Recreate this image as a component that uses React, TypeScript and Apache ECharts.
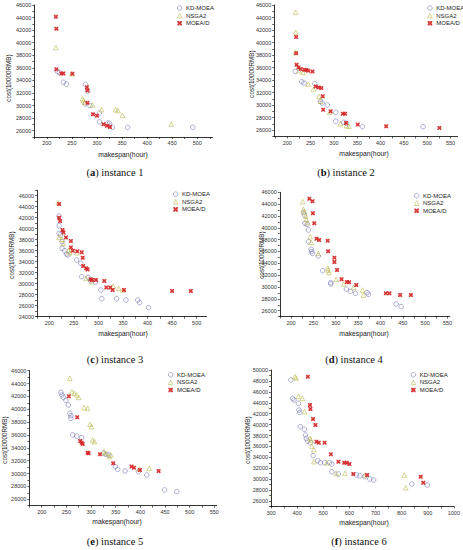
import { useEffect, useRef } from 'react';
import * as echarts from 'echarts';

const SERIES_NAMES = ['KD-MOEA', 'NSGA2', 'MOEA/D'];
const CAPTIONS = [['a', 'instance 1'], ['b', 'instance 2'], ['c', 'instance 3'], ['d', 'instance 4'], ['e', 'instance 5'], ['f', 'instance 6']];
const X_TITLE = 'makespan(hour)';
const Y_TITLE = 'cost(10000RMB)';

// tick labels
const xLabA = [200, 250, 300, 350, 400, 450, 500];
const xLabB = [200, 250, 300, 350, 400, 450, 500, 550];
const xLabC = [200, 250, 300, 350, 400, 450, 500];
const xLabD = [200, 250, 300, 350, 400, 450, 500, 550];
const xLabE = [200, 250, 300, 350, 400, 450, 500, 550];
const xLabF = [300, 400, 500, 600, 700, 800, 900, 1000];
const yLab46 = [26000, 28000, 30000, 32000, 34000, 36000, 38000, 40000, 42000, 44000, 46000];
const yLabC = [24000, 26000, 28000, 30000, 32000, 34000, 36000, 38000, 40000, 42000, 44000, 46000];
const yLabF = [26000, 28000, 30000, 32000, 34000, 36000, 38000, 40000, 42000, 44000, 46000, 48000, 50000];

// (a) instance 1
const aKD = [[221,35400],[225,35280],[233,33700],[239,33420],[277,33360],[282,32300],[277,30270],[286,30000],[305,28830],[305,27400],[321,27180],[325,27180],[331,26530],[361,26530],[491,26530]];
const aNS = [[218,39230],[250,35070],[271,31070],[273,30800],[275,30480],[291,30100],[309,29360],[337,29360],[342,29200],[351,28450],[448,27070]];
const aMO = [[218,44130],[219,42210],[219,35760],[229,35120],[233,35120],[251,35070],[280,32930],[281,32400],[281,30430],[292,28610],[300,28400],[313,27010],[320,26800],[326,26600]];

// (b) instance 2
const bKD = [[217,35390],[231,33745],[236,33530],[259,33430],[271,30615],[275,30350],[286,30030],[304,28860],[304,27430],[321,27270],[327,27110],[361,26580],[491,26580]];
const bNS = [[218,44830],[218,41650],[218,38470],[225,35500],[234,35230],[245,33370],[256,32580],[268,31410],[271,30620],[291,28860],[314,27060],[327,26740],[332,26640]];
const bMO = [[219,40900],[219,38300],[220,36450],[224,36030],[229,35760],[237,35660],[241,35600],[245,35500],[254,35390],[261,33000],[267,32840],[273,32740],[276,31410],[277,29290],[293,29020],[319,28650],[324,28650],[326,27170],[351,26900],[412,26640],[526,26370]];

// (c) instance 3
const cKD = [[220,42300],[220,40550],[220,39150],[223,38850],[226,37640],[226,36420],[231,36000],[235,35390],[238,35210],[256,34300],[264,33700],[266,31270],[279,31150],[284,30545],[294,30300],[305,28850],[307,27270],[337,27270],[356,27030],[380,27030],[384,26550],[402,25640]];
const cNS = [[218,44730],[220,38420],[226,38060],[228,37330],[239,36000],[242,35630],[256,35630],[275,30970],[286,30360],[330,29570],[341,29150],[350,28850]];
const cMO = [[220,44480],[220,42000],[222,41400],[227,39760],[229,39330],[234,38420],[244,37750],[244,36600],[248,36000],[257,35880],[266,35700],[268,34730],[269,33210],[275,32790],[278,32600],[284,30790],[287,30670],[295,30670],[312,30480],[316,29330],[324,29330],[329,28850],[352,28850],[450,28670],[488,28670]];

// (d) instance 4
const dKD = [[228,42620],[230,42170],[231,40760],[236,40590],[239,39630],[239,37660],[245,36370],[246,35970],[248,35690],[261,35240],[271,32760],[289,30730],[289,30510],[324,29660],[333,29270],[344,28930],[370,29040],[373,28760],[435,27130],[446,26680]];
const dNS = [[226,44420],[228,43130],[230,42730],[233,42000],[234,41440],[237,40870],[243,38510],[245,37550],[261,35690],[282,33210],[283,32870],[285,32420],[301,31300],[318,30510],[340,29940],[360,29490],[362,28650]];
const dMO = [[241,44930],[248,44480],[249,42450],[252,40760],[257,38170],[263,37940],[282,37830],[283,36030],[297,34960],[297,34230],[303,32870],[313,31300],[325,30850],[330,30790],[346,30340],[412,28930],[420,28930],[444,28650],[468,28650]];

// (e) instance 5
const eKD = [[239,42630],[241,42220],[244,41850],[249,41390],[254,40660],[257,39370],[259,39000],[259,38590],[263,36000],[271,35840],[281,35580],[325,33150],[330,32990],[336,32890],[349,31080],[354,30660],[369,30400],[396,30300],[413,29780],[449,27450],[474,27190]];
const eNS = [[257,44810],[261,42730],[266,42480],[271,42220],[275,41850],[286,40250],[293,40150],[298,37660],[301,37300],[303,35220],[307,34960],[326,33410],[330,33150],[340,32890],[337,32630],[398,30710],[418,30820]];
const eMO = [[255,42010],[272,38750],[278,35070],[281,34810],[283,34600],[293,33250],[295,33150],[318,32990],[345,31600],[382,31080],[387,30920],[399,30560],[437,30400]];

// (f) instance 6
const fKD = [[376,48170],[383,44810],[388,44500],[405,43890],[407,42670],[410,42240],[412,39620],[428,39130],[432,38090],[435,37480],[440,36990],[451,36690],[461,34310],[479,33390],[489,33020],[505,33020],[524,33020],[533,32780],[533,31370],[558,30950],[627,30760],[640,30640],[659,30460],[678,30030],[693,29850],[839,29110],[898,28930]];
const fNS = [[391,48780],[396,48540],[405,45170],[420,44810],[428,42370],[449,37480],[453,37180],[456,36080],[464,35400],[464,33210],[514,33020],[549,31070],[583,31070],[660,30760],[810,30760],[816,28440]];
const fMO = [[441,48780],[449,43590],[451,42850],[461,41020],[470,39920],[474,36870],[483,36690],[505,36690],[529,34550],[558,33210],[580,33020],[590,33020],[600,32780],[615,30950],[668,30760],[873,30460],[883,29360]];

const DATA = [[aKD, aNS, aMO], [bKD, bNS, bMO], [cKD, cNS, cMO], [dKD, dNS, dMO], [eKD, eNS, eMO], [fKD, fNS, fMO]];
const X_LABELS = [xLabA, xLabB, xLabC, xLabD, xLabE, xLabF];
const Y_LABELS = [yLab46, yLab46, yLabC, yLab46, yLab46, yLabF];
const X_RANGE = [[175, 530], [172, 565], [175, 520], [175, 555], [175, 555], [300, 1000]];
const Y_RANGE = [[25000, 46000], [25000, 46000], [24000, 47000], [25000, 46000], [25000, 46000], [25000, 50000]];

// layout (pixels)
const GRIDS = [
  { left: 34.3, top: 5, width: 178, height: 132 },
  { left: 274.2, top: 5, width: 183.4, height: 131.5 },
  { left: 37, top: 190.2, width: 169.5, height: 126.5 },
  { left: 279.8, top: 192.3, width: 170, height: 124.3 },
  { left: 29.4, top: 370.7, width: 187.4, height: 135 },
  { left: 271, top: 370, width: 185.3, height: 136.5 },
];
const LEGEND_POS = [[177, 5], [427.3, 5], [173, 191.2], [414, 192.6], [168, 371.8], [410.7, 371.8]];
const Y_TITLE_POS = [[8.3, 78], [251, 74], [11.7, 255], [261, 255], [4, 440], [247, 440]];
const X_TITLE_POS = [[123, 154], [364, 153], [123, 333], [364, 333], [117, 521.7], [364, 522]];
const CAPTION_POS = [[115, 172], [346, 172], [115, 359], [354, 359], [115, 541.5], [359, 541]];

const COLORS = ['#6f6fb6', '#b6b63e', '#d42424'];
const XMARK = 'path://M0,0L3,0L5,2L7,0L10,0L10,3L8,5L10,7L10,10L7,10L5,8L3,10L0,10L0,7L2,5L0,3Z';
const SYMBOLS = ['circle', 'triangle', XMARK];
const SANS = 'Liberation Sans, Arial, sans-serif';

function midTicks(labels: number[], lo: number, hi: number) {
  const step = labels[1] - labels[0];
  const out: number[] = [];
  const all = [labels[0] - step, ...labels, labels[labels.length - 1] + step];
  for (let i = 0; i < all.length; i++) {
    if (all[i] >= lo && all[i] <= hi) out.push(all[i]);
    const m = all[i] + step / 2;
    if (i < all.length - 1 && m >= lo && m <= hi) out.push(m);
  }
  return out;
}

function markStyle(k: number) {
  return k === 2
    ? { color: COLORS[2], opacity: 0.9, borderWidth: 0 }
    : { color: 'rgba(255,255,255,0)', borderColor: COLORS[k], borderWidth: 0.7 };
}

export default function App() {
  const ref = useRef<HTMLDivElement>(null);
  useEffect(() => {
    if (!ref.current) return;
    const chart = echarts.init(ref.current, undefined, { renderer: 'svg' });
    const axisBase = {
      axisLine: { show: true, onZero: false, lineStyle: { color: '#000', width: 0.8 } },
      splitLine: { show: false },
    };
    const xAxis = X_RANGE.map((r, i) => ({
      type: 'value', gridIndex: i, min: r[0], max: r[1], ...axisBase,
      axisTick: { show: true, length: 2, customValues: midTicks(X_LABELS[i], r[0], r[1]), lineStyle: { color: '#000', width: 0.6 } },
      axisLabel: { customValues: X_LABELS[i], fontSize: 5.5, color: '#333', margin: 3, fontFamily: SANS, formatter: (v: number) => String(v) },
    }));
    const yAxis = Y_RANGE.map((r, i) => ({
      type: 'value', gridIndex: i, min: r[0], max: r[1], ...axisBase,
      axisTick: { show: true, length: 2, customValues: midTicks(Y_LABELS[i], r[0], r[1]), lineStyle: { color: '#000', width: 0.6 } },
      axisLabel: { customValues: Y_LABELS[i], fontSize: 5.5, color: '#333', margin: 3, fontFamily: SANS, formatter: (v: number) => String(v) },
    }));
    const series: any[] = [];
    DATA.forEach((panel, i) => {
      panel.forEach((pts, k) => {
        series.push({
          type: 'scatter', name: SERIES_NAMES[k], xAxisIndex: i, yAxisIndex: i, data: pts,
          symbol: SYMBOLS[k],
          symbolSize: k === 2 ? 4 : 4.6,
          itemStyle: markStyle(k),
          z: k === 2 ? 3 : 2,
        });
      });
    });
    const legend = LEGEND_POS.map((p) => ({
      data: SERIES_NAMES.map((n, k) => ({ name: n, icon: SYMBOLS[k], itemStyle: markStyle(k) })),
      orient: 'vertical', left: p[0], top: p[1], padding: 0, itemGap: 1.6,
      itemWidth: 4.6, itemHeight: 4.6, selectedMode: false,
      textStyle: { fontSize: 6, color: '#222', fontFamily: SANS, padding: [0, 0, 0, -1] },
    }));
    const graphic: any[] = [];
    Y_TITLE_POS.forEach((p) => graphic.push({
      type: 'text', x: p[0], y: p[1], rotation: Math.PI / 2,
      style: { text: Y_TITLE, fontSize: 6.3, fill: '#222', fontFamily: SANS, align: 'center', verticalAlign: 'middle' },
    }));
    X_TITLE_POS.forEach((p) => graphic.push({
      type: 'text', x: p[0], y: p[1],
      style: { text: X_TITLE, fontSize: 6.8, fill: '#222', fontFamily: SANS, align: 'center', verticalAlign: 'middle' },
    }));
    CAPTION_POS.forEach((p, i) => graphic.push({
      type: 'text', x: p[0], y: p[1],
      style: {
        text: '({b|' + CAPTIONS[i][0] + '}) ' + CAPTIONS[i][1], fontSize: 10.5, fill: '#111',
        fontFamily: 'Liberation Serif, serif', align: 'center', verticalAlign: 'middle',
        rich: { b: { fontWeight: 'bold', fontSize: 10.5, fontFamily: 'Liberation Serif, serif', fill: '#111' } },
      },
    }));
    chart.setOption({
      animation: false,
      backgroundColor: '#fff',
      grid: GRIDS.map((g) => ({ ...g, containLabel: false })),
      xAxis, yAxis, series, legend, graphic,
    });
    return () => chart.dispose();
  }, []);
  return <div ref={ref} style={{ position: 'absolute', left: 0, top: 0, width: 463, height: 550 }} />;
}
